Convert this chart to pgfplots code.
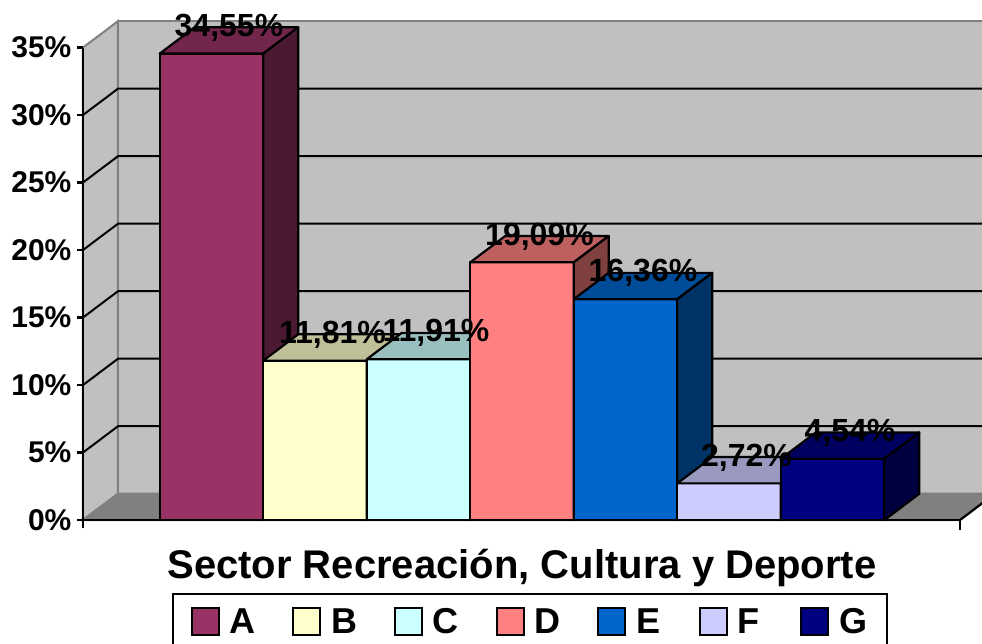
\documentclass[border=0pt]{standalone}
\usepackage{fontspec}
\setmainfont{Liberation Sans}
\usepackage{pgfplots}
\pgfplotsset{compat=1.18}

\definecolor{cA}{HTML}{993366}
\definecolor{cB}{HTML}{FFFFCC}
\definecolor{cC}{HTML}{CCFFFF}
\definecolor{cD}{HTML}{FF8080}
\definecolor{cE}{HTML}{0066CC}
\definecolor{cF}{HTML}{CCCCFF}
\definecolor{cG}{HTML}{000080}
\definecolor{wallc}{HTML}{C0C0C0}
\definecolor{floorc}{HTML}{808080}

% one 3D bar: index, value, colour (front, top 75%, side 50%)
\newcommand\cuboid[3]{%
  \pgfmathsetmacro\xl{#1-0.5}%
  \pgfmathsetmacro\xr{#1+0.5}%
  \pgfmathsetmacro\xlb{#1-0.5+0.338}%
  \pgfmathsetmacro\xrb{#1+0.5+0.338}%
  \pgfmathsetmacro\yb{#2+1.95}%
  \addplot[forget plot, fill=#3, draw=black, line width=2.2pt, line join=round]
    coordinates {(\xl,0) (\xr,0) (\xr,#2) (\xl,#2)} -- cycle;
  \addplot[forget plot, fill=#3!75!black, draw=black, line width=2.2pt, line join=round]
    coordinates {(\xl,#2) (\xr,#2) (\xrb,\yb) (\xlb,\yb)} -- cycle;
  \addplot[forget plot, fill=#3!50!black, draw=black, line width=2.2pt, line join=round]
    coordinates {(\xr,0) (\xrb,1.95) (\xrb,\yb) (\xr,#2)} -- cycle;
}

\begin{document}
\begin{tikzpicture}
\begin{axis}[
  x=103.5pt, y=13.5pt,
  xmin=-1.2415, xmax=7.444, ymin=0, ymax=35,
  axis x line=none, axis y line*=left,
  xtick=\empty,
  ytick={0,5,...,35},
  yticklabels={0\%,5\%,10\%,15\%,20\%,25\%,30\%,35\%},
  tick align=outside, major tick length=6pt,
  y axis line style={black, line width=2.2pt},
  tick style={black, line width=2.2pt},
  yticklabel style={font=\fontsize{30}{30}\selectfont\bfseries, xshift=-2pt},
  clip=false, axis on top,
  legend columns=7,
  legend style={at={(axis cs:-0.3816,-5.41)}, anchor=north west, draw=black, line width=2pt,
    font=\fontsize{36}{36}\selectfont\bfseries,
    nodes={text width=30pt, inner sep=0pt, align=left},
    /tikz/every odd column/.append style={column sep=10pt},
    /tikz/every even column/.append style={column sep=32.5pt},
    inner xsep=18pt, inner ysep=13pt},
  legend image code/.code={\draw[#1, draw=black, line width=2pt] (0pt,-13pt) rectangle (27pt,14pt);},
]
% back wall, left wall, floor
\addplot[forget plot, fill=wallc, draw=floorc, line width=2pt]
  coordinates {(-0.9034,1.95) (-0.9034,36.95) (7.7,36.95) (7.7,1.95)} -- cycle;
\addplot[forget plot, fill=wallc, draw=floorc, line width=2pt]
  coordinates {(-1.2415,0) (-1.2415,35) (-0.9034,36.95) (-0.9034,1.95)} -- cycle;
\addplot[forget plot, fill=floorc, draw=floorc, line width=2pt]
  coordinates {(-1.2415,0) (7.23,0) (7.568,1.95) (-0.9034,1.95)} -- cycle;
% grid lines on the walls
\addplot[forget plot, black, line width=2pt] coordinates {(-1.2415,5) (-0.9034,6.95) (7.7,6.95)};
\addplot[forget plot, black, line width=2pt] coordinates {(-1.2415,10) (-0.9034,11.95) (7.7,11.95)};
\addplot[forget plot, black, line width=2pt] coordinates {(-1.2415,15) (-0.9034,16.95) (7.7,16.95)};
\addplot[forget plot, black, line width=2pt] coordinates {(-1.2415,20) (-0.9034,21.95) (7.7,21.95)};
\addplot[forget plot, black, line width=2pt] coordinates {(-1.2415,25) (-0.9034,26.95) (7.7,26.95)};
\addplot[forget plot, black, line width=2pt] coordinates {(-1.2415,30) (-0.9034,31.95) (7.7,31.95)};

% bars
\cuboid{0}{34.55}{cA}
\cuboid{1}{11.81}{cB}
\cuboid{2}{11.91}{cC}
\cuboid{3}{19.09}{cD}
\cuboid{4}{16.36}{cE}
\cuboid{5}{2.72}{cF}
\cuboid{6}{4.54}{cG}

% front axis line and floor edge
\addplot[forget plot, black, line width=2.2pt] coordinates {(-1.2415,-0.6) (-1.2415,0) (7.23,0) (7.23,-0.75)};
\addplot[forget plot, black, line width=2.2pt] coordinates {(7.23,0) (7.568,1.95)};

% value labels
\addplot[forget plot, draw=none, mark=none, point meta=y,
  nodes near coords={\pgfmathprintnumber[use comma,fixed,fixed zerofill,precision=2,assume math mode=true]{\pgfplotspointmeta}\%},
  nodes near coords align=center,
  every node near coord/.append style={font=\fontsize{32}{32}\selectfont\bfseries, text=black, anchor=center, xshift=17.5pt, yshift=26pt}]
  coordinates {(0,34.55) (1,11.81) (2,11.91) (3,19.09) (4,16.36) (5,2.72) (6,4.54)};

\node[font=\fontsize{40}{40}\selectfont\bfseries] at (axis cs:3.0,-3.52) {Sector Recreación, Cultura y Deporte};

\addlegendimage{fill=cA}\addlegendentry{A}
\addlegendimage{fill=cB}\addlegendentry{B}
\addlegendimage{fill=cC}\addlegendentry{C}
\addlegendimage{fill=cD}\addlegendentry{D}
\addlegendimage{fill=cE}\addlegendentry{E}
\addlegendimage{fill=cF}\addlegendentry{F}
\addlegendimage{fill=cG}\addlegendentry{G}

\coordinate (bbl) at (axis cs:-2.043,-9.11);
\coordinate (btr) at (axis cs:7.444,38.52);
\end{axis}
\pgfresetboundingbox
\path[use as bounding box] (bbl) rectangle (btr);
\end{tikzpicture}
\end{document}
